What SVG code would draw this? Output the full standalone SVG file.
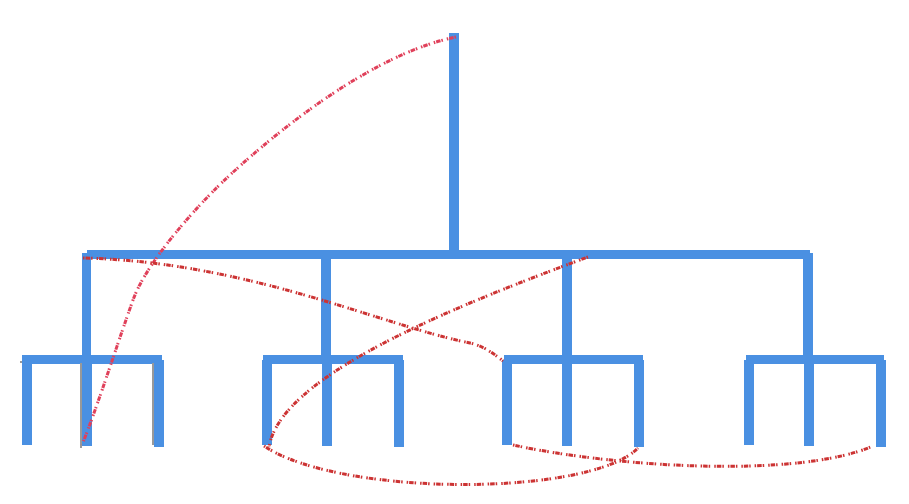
<svg xmlns="http://www.w3.org/2000/svg" width="909" height="504" viewBox="0 0 909 504">
<style>
.b{fill:#4a90e2}
.sh{stroke:#999;stroke-width:2;fill:none}
.r{fill:none;stroke:#cc3333;stroke-width:3;stroke-dasharray:1.5 1 4.5 1 1.5 4}
.rp{stroke:#e0405a}
</style>
<rect width="909" height="504" fill="#fff"/>
<g id="root"><rect class="b" x="449" y="33" width="10" height="222"/><rect class="b" x="87" y="250" width="723" height="9"/></g>
<g id="n1"><rect class="b" x="82" y="253" width="9" height="107"/><rect class="b" x="22" y="355" width="140" height="9"/></g>
<g id="n2"><rect class="b" x="321" y="253" width="10" height="107"/><rect class="b" x="263" y="355" width="140" height="9"/></g>
<g id="n3"><rect class="b" x="562" y="253" width="10" height="107"/><rect class="b" x="504" y="355" width="139" height="9"/></g>
<g id="n4"><rect class="b" x="803" y="253" width="10" height="107"/><rect class="b" x="746" y="355" width="138" height="9"/></g>
<g id="leaves1">
<line class="sh" x1="81" y1="363" x2="81" y2="448"/><line class="sh" x1="153" y1="363" x2="153" y2="445"/><line class="sh" x1="20" y1="362" x2="24" y2="362"/>
<rect class="b" x="22" y="360" width="10" height="85"/><rect class="b" x="82" y="360" width="10" height="86"/><rect class="b" x="154" y="360" width="10" height="87"/></g>
<g id="leaves2"><rect class="b" x="262" y="360" width="10" height="85"/><rect class="b" x="322" y="360" width="10" height="86"/><rect class="b" x="394" y="360" width="10" height="87"/></g>
<g id="leaves3"><rect class="b" x="502" y="360" width="10" height="85"/><rect class="b" x="562" y="360" width="10" height="86"/><rect class="b" x="634" y="360" width="10" height="87"/></g>
<g id="leaves4"><rect class="b" x="744" y="360" width="10" height="85"/><rect class="b" x="804" y="360" width="10" height="86"/><rect class="b" x="876" y="360" width="10" height="87"/></g>
<g id="connectors">
<path class="r rp" d="M456 37 C376 53 284 125 230 175 C200 202.5 147.4 260 133 300 C118.6 340 98 405 82 445"/>
<path class="r" d="M83 258 C250 262 380 325 470 343 Q485 346 503 361"/>
<path class="r" d="M588 257 C430 315 280 380 269 447"/>
<path class="r" d="M264 446 C340 497 590 497 638 448"/>
<path class="r" d="M513 445 C620 468 800 478 873 446"/>
</g>
</svg>
